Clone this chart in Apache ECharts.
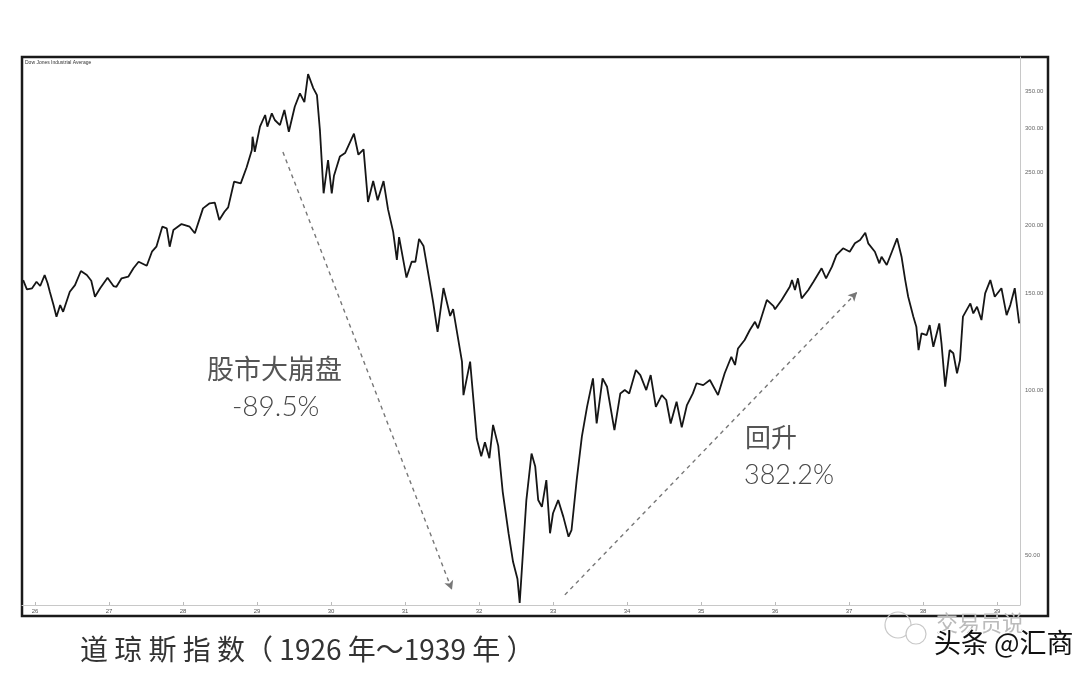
<!DOCTYPE html>
<html>
<head>
<meta charset="utf-8">
<script src="https://cdn.jsdelivr.net/npm/echarts@6/dist/echarts.min.js"></script>
<style>
  html, body { margin: 0; padding: 0; background: #fff; }
  #chart { width: 1080px; height: 682px; }
</style>
</head>
<body>
<div id="chart"></div>
<script>
// 道琼斯工业平均指数 1926-1939（读图估计，年份为小数年）
const dates = [
  1925.84, 1925.89, 1925.96, 1926.02, 1926.07, 1926.13, 1926.17, 1926.20, 1926.25, 1926.29,
  1926.34, 1926.38, 1926.47, 1926.54, 1926.62, 1926.70, 1926.76, 1926.81, 1926.88, 1926.98,
  1927.06, 1927.10, 1927.17, 1927.26, 1927.33, 1927.40, 1927.51, 1927.58, 1927.64, 1927.72,
  1927.78, 1927.82, 1927.87, 1927.98, 1928.09, 1928.16, 1928.27, 1928.36, 1928.43, 1928.49,
  1928.56, 1928.61, 1928.69, 1928.78, 1928.86, 1928.93, 1928.94, 1928.97, 1929.04, 1929.11,
  1929.14, 1929.20, 1929.24, 1929.31, 1929.37, 1929.43, 1929.51, 1929.58, 1929.64, 1929.69,
  1929.76, 1929.81, 1929.85, 1929.90, 1929.96, 1930.01, 1930.04, 1930.12, 1930.19, 1930.31,
  1930.37, 1930.44, 1930.50, 1930.57, 1930.63, 1930.71, 1930.77, 1930.84, 1930.89, 1930.92,
  1931.02, 1931.09, 1931.14, 1931.19, 1931.25, 1931.34, 1931.38, 1931.44, 1931.52, 1931.61,
  1931.65, 1931.77, 1931.79, 1931.88, 1931.97, 1932.03, 1932.08, 1932.14, 1932.19, 1932.26,
  1932.32, 1932.40, 1932.46, 1932.52, 1932.55, 1932.64, 1932.71, 1932.76, 1932.80, 1932.85,
  1932.91, 1932.96, 1933.00, 1933.07, 1933.14, 1933.21, 1933.25, 1933.32, 1933.39, 1933.46,
  1933.54, 1933.59, 1933.67, 1933.73, 1933.83, 1933.91, 1933.97, 1934.03, 1934.12, 1934.18,
  1934.26, 1934.32, 1934.39, 1934.47, 1934.53, 1934.59, 1934.67, 1934.74, 1934.81, 1934.89,
  1934.94, 1935.03, 1935.12, 1935.23, 1935.32, 1935.41, 1935.46, 1935.50, 1935.59, 1935.66,
  1935.73, 1935.77, 1935.89, 1935.98, 1936.00, 1936.09, 1936.20, 1936.23, 1936.27, 1936.31,
  1936.36, 1936.45, 1936.52, 1936.63, 1936.69, 1936.77, 1936.83, 1936.92, 1937.01, 1937.08,
  1937.15, 1937.22, 1937.26, 1937.35, 1937.41, 1937.44, 1937.51, 1937.58, 1937.65, 1937.71,
  1937.76, 1937.80, 1937.87, 1937.91, 1937.94, 1937.98, 1938.05, 1938.09, 1938.14, 1938.22,
  1938.25, 1938.30, 1938.36, 1938.41, 1938.46, 1938.50, 1938.54, 1938.64, 1938.68, 1938.73,
  1938.79, 1938.84, 1938.91, 1938.97, 1939.06, 1939.13, 1939.18, 1939.24, 1939.30
];
const closes = [
  158.7, 152.6, 153.3, 157.6, 154.8, 162.1, 156.6, 151.1, 142.9, 136.1,
  142.9, 138.9, 151.1, 155.4, 164.9, 162.1, 158.3, 148.0, 153.4, 160.3,
  154.8, 154.3, 159.9, 161.0, 166.8, 171.4, 168.6, 178.8, 182.6, 198.6,
  197.2, 182.6, 195.9, 200.8, 198.6, 193.2, 214.5, 219.1, 219.7, 204.3,
  211.5, 215.4, 239.9, 238.3, 254.9, 274.1, 289.8, 272.1, 302.3, 317.5,
  302.3, 319.8, 310.9, 304.4, 324.2, 295.9, 328.7, 347.8, 335.2, 377.1,
  355.5, 345.1, 298.0, 228.5, 262.8, 228.5, 246.0, 266.7, 270.6, 293.5,
  268.7, 274.8, 220.3, 240.6, 221.9, 240.6, 213.8, 194.3, 172.7, 190.1,
  160.4, 171.4, 171.4, 188.7, 183.2, 155.7, 144.7, 127.7, 153.5, 136.5,
  140.5, 112.7, 97.9, 112.7, 81.5, 75.7, 80.3, 75.1, 86.4, 79.1,
  65.3, 54.7, 48.6, 45.2, 40.9, 63.0, 76.6, 72.5, 63.0, 61.2,
  68.5, 54.8, 59.6, 63.0, 58.7, 54.0, 55.5, 68.5, 82.2, 93.2,
  105.0, 86.9, 105.0, 101.4, 84.5, 98.6, 100.0, 98.6, 108.8, 106.5,
  100.0, 106.5, 93.2, 97.9, 95.9, 86.9, 95.2, 85.5, 93.9, 98.6,
  102.9, 102.1, 104.3, 97.9, 107.3, 115.0, 111.1, 119.1, 123.4, 128.7,
  133.2, 129.6, 146.0, 142.3, 140.4, 146.0, 154.3, 158.7, 152.2, 159.9,
  147.0, 152.2, 157.6, 166.8, 159.9, 167.9, 176.3, 181.4, 178.8, 185.2,
  187.8, 193.6, 185.2, 178.8, 170.3, 175.1, 169.1, 178.8, 189.1, 175.1,
  158.7, 148.0, 136.1, 130.5, 118.3, 126.9, 126.0, 131.4, 119.9, 132.3,
  121.7, 101.4, 118.3, 116.7, 107.3, 113.4, 136.1, 143.9, 138.0, 141.9,
  134.2, 150.1, 158.7, 148.0, 153.4, 137.0, 142.9, 153.4, 132.3
];
const yearTicks = [1926, 1927, 1928, 1929, 1930, 1931, 1932, 1933, 1934, 1935, 1936, 1937, 1938, 1939];
const priceTicks = [50, 100, 150, 200, 250, 300, 350];
// 虚线箭头的起止点（年份, 指数）
const crashArrow = [[1929.35, 271.8], [1931.635, 43.2]];
const reboundArrow = [[1933.16, 42.3], [1937.11, 150.9]];

const cjk = '"Noto Sans CJK SC", "Noto Sans", sans-serif';
const thin = 'Lato, "Open Sans", sans-serif';
const chart = echarts.init(document.getElementById('chart'));

const arrowLine = (pts) => [
  { coord: pts[0], symbol: 'none' },
  { coord: pts[1], symbol: 'arrow', symbolSize: [7, 9] }
];

let option = {
  animation: false,
  backgroundColor: '#fff',
  grid: { left: 22, top: 57, right: 60, bottom: 77 },
  xAxis: {
    type: 'value',
    min: 1925.824,
    max: 1939.311,
    splitLine: { show: false },
    axisLine: { show: true, lineStyle: { color: '#c8c8c8', width: 1 } },
    axisTick: { show: true, customValues: yearTicks, length: 3, inside: true, lineStyle: { color: '#bbb' } },
    axisLabel: {
      customValues: yearTicks,
      formatter: (v) => String(Math.round(v)).slice(2),
      fontSize: 6,
      color: '#555',
      margin: 3,
      fontFamily: 'Arial, sans-serif'
    }
  },
  yAxis: {
    type: 'log',
    position: 'right',
    min: 40.54,
    max: 405.1,
    splitLine: { show: false },
    axisLine: { show: true, lineStyle: { color: '#c8c8c8', width: 1 } },
    axisTick: { show: false },
    axisLabel: {
      customValues: priceTicks,
      formatter: (v) => Number(v).toFixed(2),
      fontSize: 6,
      color: '#666',
      margin: 5,
      fontFamily: 'Arial, sans-serif'
    }
  },
  series: [
    {
      type: 'line',
      data: dates.map((d, i) => [d, closes[i]]),
      showSymbol: false,
      lineStyle: { color: '#161616', width: 1.8 },
      markLine: {
        silent: true,
        label: { show: false },
        lineStyle: { color: '#777', type: [4, 4], width: 1.4 },
        data: [arrowLine(crashArrow), arrowLine(reboundArrow)]
      }
    }
  ],
  graphic: [
    {
      type: 'rect',
      shape: { x: 22, y: 57, width: 1026, height: 559 },
      style: { fill: 'none', stroke: '#1a1a1a', lineWidth: 2.5 }
    },
    {
      type: 'text', left: 25, top: 60,
      style: { text: 'Dow Jones Industrial Average', fontSize: 5, fill: '#333', fontFamily: 'Arial, sans-serif' }
    },
    {
      type: 'text', left: 207, top: 355,
      style: { text: '股市大崩盘', fontSize: 27, fill: '#555', fontFamily: cjk }
    },
    {
      type: 'text', left: 232, top: 393,
      style: { text: '-89.5%', fontSize: 28, fontWeight: 300, fill: '#484848', fontFamily: thin }
    },
    {
      type: 'text', left: 745, top: 424,
      style: { text: '回升', fontSize: 26, fill: '#555', fontFamily: cjk }
    },
    {
      type: 'text', left: 744, top: 462,
      style: { text: '382.2%', fontSize: 27, fontWeight: 300, fill: '#484848', fontFamily: thin }
    },
    {
      type: 'text', left: 80, top: 635,
      style: { text: '道 琼 斯 指 数（ 1926 年～1939 年 ）', fontSize: 28, fill: '#333', fontFamily: cjk }
    },
    {
      type: 'circle', shape: { cx: 898, cy: 625, r: 13 },
      style: { fill: 'none', stroke: '#c8c8c8', lineWidth: 1.2 }
    },
    {
      type: 'circle', shape: { cx: 916, cy: 634, r: 10 },
      style: { fill: '#fff', stroke: '#c8c8c8', lineWidth: 1.2 }
    },
    {
      type: 'text', left: 936, top: 612,
      style: { text: '交易员说', fontSize: 22, fill: '#bbb', fontFamily: cjk }
    },
    {
      type: 'text', left: 933, top: 628,
      style: {
        text: '头条 @汇商', fontSize: 27, fill: '#111', fontFamily: cjk,
        stroke: '#fff', lineWidth: 2
      }
    }
  ]
};

chart.setOption(option);
</script>
</body>
</html>
